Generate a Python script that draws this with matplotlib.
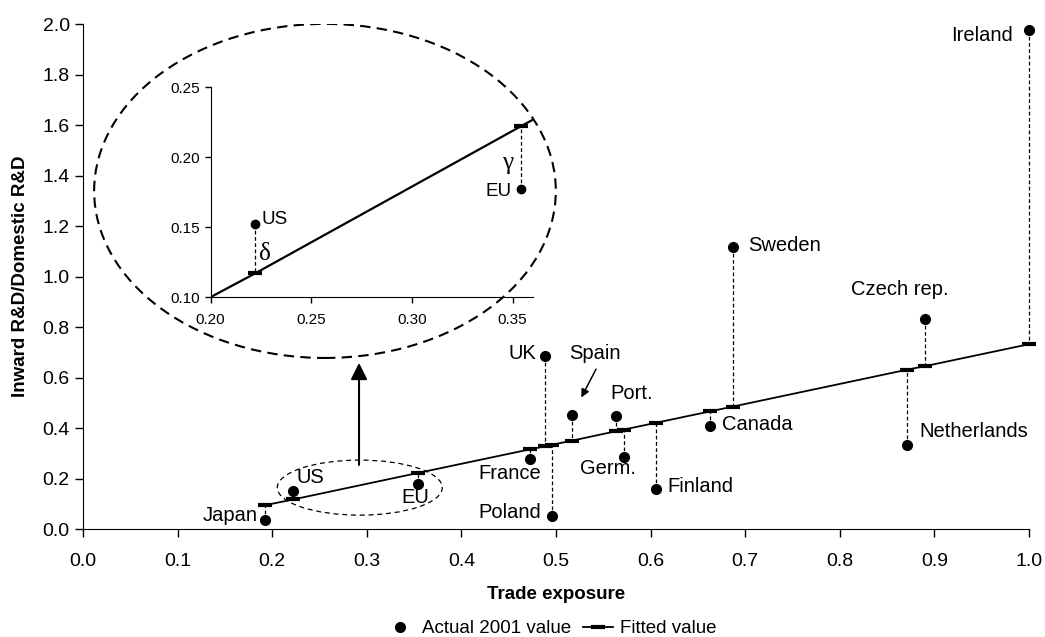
import numpy as np
import matplotlib.pyplot as plt
from matplotlib.patches import Ellipse
from matplotlib.lines import Line2D

plt.rcParams['font.family'] = ['Liberation Sans', 'DejaVu Sans']

# countries, sorted by trade exposure
countries = ['Japan', 'US', 'EU', 'France', 'UK', 'Poland', 'Spain', 'Port.', 'Germ.',
             'Finland', 'Canada', 'Sweden', 'Netherlands', 'Czech rep.', 'Ireland']
trade = [0.192, 0.222, 0.354, 0.473, 0.488, 0.496, 0.517, 0.563, 0.572,
         0.606, 0.663, 0.687, 0.871, 0.890, 1.000]
actual = [0.036, 0.152, 0.177, 0.277, 0.684, 0.051, 0.450, 0.447, 0.284,
          0.158, 0.409, 1.118, 0.333, 0.830, 1.975]
fitted = [0.094, 0.117, 0.222, 0.316, 0.327, 0.334, 0.350, 0.387, 0.394,
          0.421, 0.466, 0.485, 0.631, 0.645, 0.732]

# label positions (x, y, ha)
label_pos = {
    'Japan': (0.185, 0.055, 'right'),
    'US': (0.226, 0.205, 'left'),
    'EU': (0.337, 0.126, 'left'),
    'UK': (0.4795, 0.696, 'right'),
    'Spain': (0.514, 0.696, 'left'),
    'Port.': (0.558, 0.537, 'left'),
    'France': (0.4847, 0.22, 'right'),
    'Germ.': (0.5254, 0.240, 'left'),
    'Poland': (0.4847, 0.065, 'right'),
    'Finland': (0.6177, 0.168, 'left'),
    'Canada': (0.676, 0.412, 'left'),
    'Sweden': (0.703, 1.122, 'left'),
    'Czech rep.': (0.8636, 0.949, 'center'),
    'Netherlands': (0.884, 0.388, 'left'),
    'Ireland': (0.9834, 1.956, 'right'),
}

fig = plt.figure(figsize=(10.45, 6.37), dpi=100)
ax = fig.add_axes([0.0794, 0.1695, 0.9053, 0.7928])

for x, a, f in zip(trade, actual, fitted):
    ax.plot([x, x], [a, f], color='black', lw=0.9, ls=(0, (3, 2)), zorder=1,
            clip_on=False)
ax.plot(trade, fitted, color='black', lw=1.3, marker='_', ms=10, mew=3, zorder=2,
        clip_on=False)
ax.plot(trade, actual, 'o', color='black', ms=7, zorder=3, ls='none', clip_on=False)

for name, (tx, ty, ha) in label_pos.items():
    ax.text(tx, ty, name, ha=ha, va='center', fontsize=14.5)

ax.annotate('', xy=(0.5254, 0.511), xytext=(0.5437, 0.643),
            arrowprops=dict(arrowstyle='-|>', color='black', lw=1.1, mutation_scale=12))

# zoom ellipses and arrow
ax.add_patch(Ellipse((0.2926, 0.164), 0.1744, 0.218, fill=False, ls=(0, (4, 3)),
                     lw=0.9, color='black'))
ax.add_patch(Ellipse((0.2558, 1.339), 0.488, 1.323, fill=False, ls=(0, (5, 3)),
                     lw=1.5, color='black'))
ax.annotate('', xy=(0.2918, 0.669), xytext=(0.2918, 0.243),
            arrowprops=dict(arrowstyle='-|>', color='black', lw=1.5, mutation_scale=25))

ax.set_xlim(0, 1.0)
ax.set_ylim(0, 2.0)
ax.set_xticks(np.arange(0, 1.01, 0.1))
ax.set_yticks(np.arange(0, 2.01, 0.2))
ax.set_xticklabels(['%.1f' % v for v in np.arange(0, 1.01, 0.1)])
ax.set_yticklabels(['%.1f' % v for v in np.arange(0, 2.01, 0.2)])
ax.tick_params(labelsize=14, length=6, width=1)
ax.tick_params(axis='x', pad=11)
for s in ['top', 'right']:
    ax.spines[s].set_visible(False)
ax.set_xlabel('Trade exposure', fontsize=13.5, fontweight='bold', labelpad=12)
ax.set_ylabel('Inward R&D/Domestic R&D', fontsize=13.5, fontweight='bold', labelpad=10)

# inset
ins = fig.add_axes([0.2016, 0.5333, 0.3081, 0.3297])
ins.patch.set_alpha(0)
idx = [1, 2]
for i in idx:
    ins.plot([trade[i], trade[i]], [actual[i], fitted[i]], color='black', lw=0.9,
             ls=(0, (3, 2)))
ins.plot(trade, fitted, color='black', lw=1.6, marker='_', ms=10, mew=3)
ins.plot([trade[i] for i in idx], [actual[i] for i in idx], 'o', color='black', ms=6)
ins.text(0.2253, 0.1557, 'US', ha='left', va='center', fontsize=13.5)
ins.text(0.3495, 0.1759, 'EU', ha='right', va='center', fontsize=13.5)
ins.text(0.2240, 0.1307, 'δ', ha='left', va='center', fontsize=18,
         family=['Liberation Serif', 'DejaVu Serif'])
ins.text(0.3476, 0.1957, 'γ', ha='center', va='center', fontsize=18,
         family=['Liberation Serif', 'DejaVu Serif'])
ins.set_xlim(0.20, 0.36)
ins.set_ylim(0.10, 0.25)
ins.set_xticks([0.20, 0.25, 0.30, 0.35])
ins.set_yticks([0.10, 0.15, 0.20, 0.25])
ins.set_xticklabels(['0.20', '0.25', '0.30', '0.35'])
ins.set_yticklabels(['0.10', '0.15', '0.20', '0.25'])
ins.tick_params(labelsize=11, length=4, width=1)
ins.tick_params(axis='x', pad=7)
for s in ['top', 'right']:
    ins.spines[s].set_visible(False)

handles = [Line2D([], [], color='black', marker='o', ls='none', ms=7),
           Line2D([], [], color='black', lw=1.3, marker='_', ms=10, mew=3)]
fig.legend(handles, ['Actual 2001 value', 'Fitted value'], loc='center',
           bbox_to_anchor=(0.527, 0.013), ncol=2, frameon=False, fontsize=13.5,
           handlelength=1.6, handletextpad=0.4, columnspacing=0.6, borderpad=0)

fig.savefig('out.png', dpi=100)
